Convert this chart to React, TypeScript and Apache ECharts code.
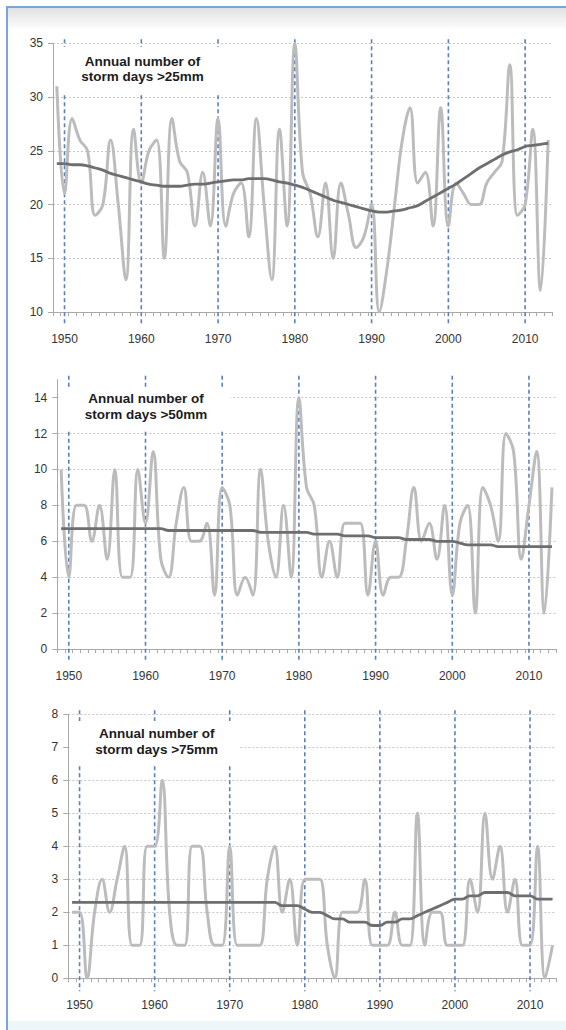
import React, { useEffect, useRef } from 'react';
import * as echarts from 'echarts';

// Years on the category axis (one point per year)
const FIRST_YEAR = 1949;
const LAST_YEAR = 2013;
const years: string[] = [];
for (let y = FIRST_YEAR; y <= LAST_YEAR; y++) years.push(String(y));

// Decade reference lines
const decadeMarks = ['1950', '1960', '1970', '1980', '1990', '2000', '2010'];

// Annual number of storm days >25mm and its smoothed trend
const days25 = [
  31, 21, 28, 26, 25, 19, 20, 26, 20, 13,
  27, 22, 25, 26, 15, 28, 24, 23, 18, 23,
  18, 28, 18, 21, 22, 17, 28, 20, 13, 27,
  18, 35, 23, 21, 17, 22, 15, 22, 19, 16,
  17, 20, 10, 14, 20, 26, 29, 22, 23, 18,
  29, 18, 22, 21, 20, 20, 22, 23, 24, 33,
  19, 20, 27, 12, 26,
];
const trend25 = [
  23.8, 23.8, 23.7, 23.7, 23.6, 23.4, 23.2, 22.9, 22.7, 22.5,
  22.3, 22.1, 21.9, 21.8, 21.7, 21.7, 21.7, 21.8, 21.9, 21.9,
  22.0, 22.1, 22.2, 22.3, 22.3, 22.4, 22.4, 22.4, 22.3, 22.1,
  22.0, 21.8, 21.6, 21.3, 21.0, 20.7, 20.4, 20.2, 20.0, 19.8,
  19.6, 19.4, 19.3, 19.3, 19.4, 19.5, 19.7, 19.9, 20.3, 20.7,
  21.1, 21.5, 21.9, 22.4, 22.9, 23.4, 23.8, 24.2, 24.6, 24.9,
  25.1, 25.4, 25.5, 25.6, 25.7,
];

// Annual number of storm days >50mm and its smoothed trend
const days50 = [
  10, 4, 8, 8, 6, 8, 5, 10, 4, 4,
  10, 7, 11, 5, 4, 7, 9, 6, 6, 7,
  3, 9, 8, 3, 4, 3, 10, 6, 4, 8,
  4, 14, 9, 8, 4, 6, 4, 7, 7, 7,
  3, 6, 3, 4, 4, 6, 9, 6, 7, 5,
  8, 3, 7, 8, 2, 9, 8, 6, 12, 11,
  5, 8, 11, 2, 9,
];
const trend50 = [
  6.7, 6.7, 6.7, 6.7, 6.7, 6.7, 6.7, 6.7, 6.7, 6.7,
  6.7, 6.7, 6.7, 6.7, 6.6, 6.6, 6.6, 6.6, 6.6, 6.6,
  6.6, 6.6, 6.6, 6.6, 6.6, 6.6, 6.5, 6.5, 6.5, 6.5,
  6.5, 6.5, 6.5, 6.4, 6.4, 6.4, 6.4, 6.3, 6.3, 6.3,
  6.3, 6.2, 6.2, 6.2, 6.2, 6.1, 6.1, 6.1, 6.1, 6.0,
  6.0, 6.0, 5.9, 5.8, 5.8, 5.8, 5.8, 5.7, 5.7, 5.7,
  5.7, 5.7, 5.7, 5.7, 5.7,
];

// Annual number of storm days >75mm and its smoothed trend
const days75 = [
  2, 2, 0, 2, 3, 2, 3, 4, 1, 1,
  4, 4, 6, 2, 1, 1, 4, 4, 2, 1,
  1, 4, 1, 1, 1, 1, 3, 4, 2, 3,
  1, 3, 3, 3, 1, 0, 2, 2, 2, 3,
  1, 1, 1, 2, 1, 1, 5, 1, 2, 2,
  1, 1, 1, 3, 2, 5, 3, 4, 2, 3,
  1, 1, 4, 0, 1,
];
const trend75 = [
  2.3, 2.3, 2.3, 2.3, 2.3, 2.3, 2.3, 2.3, 2.3, 2.3,
  2.3, 2.3, 2.3, 2.3, 2.3, 2.3, 2.3, 2.3, 2.3, 2.3,
  2.3, 2.3, 2.3, 2.3, 2.3, 2.3, 2.3, 2.3, 2.2, 2.2,
  2.2, 2.1, 2.0, 2.0, 1.9, 1.8, 1.8, 1.7, 1.7, 1.7,
  1.6, 1.6, 1.7, 1.7, 1.8, 1.8, 1.9, 2.0, 2.1, 2.2,
  2.3, 2.4, 2.4, 2.5, 2.5, 2.6, 2.6, 2.6, 2.6, 2.5,
  2.5, 2.5, 2.4, 2.4, 2.4,
];

const titles = [
  ['Annual number of', 'storm days >25mm'],
  ['Annual number of', 'storm days >50mm'],
  ['Annual number of', 'storm days >75mm'],
];

const FONT = '"Liberation Sans", Arial, Helvetica, sans-serif';
const AXIS_COLOR = '#a9a9a9';
const LABEL_COLOR = '#353535';

const panels = [
  {
    values: days25, trend: trend25, title: titles[0],
    min: 10, max: 35, interval: 5, hideMax: false,
    grid: { left: 53, top: 43.3, width: 499, height: 268.7 },
    box: { x: 60, y: 47, width: 164, height: 48 },
    titleX: 142.5, titleY: [61, 76.7],
  },
  {
    values: days50, trend: trend50, title: titles[1],
    min: 0, max: 15, interval: 2, hideMax: true,
    grid: { left: 57.3, top: 379.7, width: 498.5, height: 269.3 },
    box: { x: 58.5, y: 388, width: 172, height: 42 },
    titleX: 146, titleY: [398, 414.3],
  },
  {
    values: days75, trend: trend75, title: titles[2],
    min: 0, max: 8, interval: 1, hideMax: false,
    grid: { left: 68.3, top: 714.3, width: 488, height: 264 },
    box: { x: 69.5, y: 721, width: 169, height: 45 },
    titleX: 156.7, titleY: [733.3, 749],
  },
];

function buildOption() {
  const grid: any[] = [];
  const xAxis: any[] = [];
  const yAxis: any[] = [];
  const series: any[] = [];
  const graphic: any[] = [];

  // window-like frame around the figure
  graphic.push(
    {
      type: 'rect', silent: true, z: 0,
      shape: { x: 7, y: 8, width: 570, height: 20 },
      style: {
        fill: new echarts.graphic.LinearGradient(0, 0, 0, 1, [
          { offset: 0, color: '#e1e1e1' },
          { offset: 1, color: '#fbfbfb' },
        ]),
      },
    },
    {
      type: 'rect', silent: true, z: 0,
      shape: { x: 7, y: 1021, width: 570, height: 12 },
      style: { fill: '#edf6f9' },
    },
    {
      type: 'line', silent: true, z: 1,
      shape: { x1: 6, y1: 7, x2: 566, y2: 7 },
      style: { stroke: '#7ea3d8', lineWidth: 2 },
    },
    {
      type: 'line', silent: true, z: 1,
      shape: { x1: 7, y1: 7, x2: 7, y2: 1030 },
      style: { stroke: '#7ea3d8', lineWidth: 2 },
    },
  );

  panels.forEach((p, i) => {
    grid.push({ ...p.grid, containLabel: false });

    xAxis.push({
      type: 'category',
      gridIndex: i,
      data: years,
      boundaryGap: true,
      axisLine: { show: true, lineStyle: { color: AXIS_COLOR, width: 1 } },
      axisTick: { show: true, interval: 0, length: 4, lineStyle: { color: AXIS_COLOR } },
      axisLabel: {
        interval: (_idx: number, val: string) => Number(val) % 10 === 0,
        margin: 21,
        fontSize: 12,
        fontFamily: FONT,
        color: LABEL_COLOR,
      },
      splitLine: { show: false },
    });

    yAxis.push({
      type: 'value',
      gridIndex: i,
      min: p.min,
      max: p.max,
      interval: p.interval,
      axisLine: { show: true, lineStyle: { color: AXIS_COLOR, width: 1 } },
      axisTick: { show: true, length: 5, lineStyle: { color: AXIS_COLOR } },
      axisLabel: {
        margin: 10,
        fontSize: 12,
        fontFamily: FONT,
        color: LABEL_COLOR,
        showMaxLabel: !p.hideMax,
      },
      splitLine: {
        show: true,
        showMaxLine: !p.hideMax,
        lineStyle: { color: '#c6c6c6', width: 1, type: [2, 2] },
      },
    });

    // dashed decade lines, running a little past the plot area
    series.push({
      type: 'custom',
      xAxisIndex: i,
      yAxisIndex: i,
      z: 1,
      silent: true,
      data: decadeMarks.map((d) => [years.indexOf(d), p.min]),
      renderItem: (params: any, api: any) => {
        const pt = api.coord([api.value(0), api.value(1)]);
        const cs = params.coordSys;
        return {
          type: 'line',
          shape: { x1: pt[0], y1: cs.y - 4, x2: pt[0], y2: cs.y + cs.height + 13 },
          style: { stroke: '#5b80bb', lineWidth: 1.6, lineDash: [4, 3] },
        };
      },
    });

    series.push({
      type: 'line',
      name: 'annual',
      xAxisIndex: i,
      yAxisIndex: i,
      data: p.values,
      smooth: 0.4,
      symbol: 'none',
      z: 2,
      lineStyle: { color: '#bcbcbc', width: 3 },
    });

    series.push({
      type: 'line',
      name: 'trend',
      xAxisIndex: i,
      yAxisIndex: i,
      data: p.trend,
      smooth: 0.4,
      symbol: 'none',
      z: 3,
      lineStyle: { color: '#6e6e6e', width: 2.8 },
    });

    // title box (white background hides grid lines behind it)
    graphic.push({
      type: 'rect', silent: true, z: 50,
      shape: { ...p.box },
      style: { fill: '#ffffff' },
    });
    p.title.forEach((line, j) => {
      graphic.push({
        type: 'text', silent: true, z: 51,
        x: p.titleX,
        y: p.titleY[j],
        style: {
          text: line,
          font: `bold 13.5px ${FONT}`,
          fill: '#1c1c1c',
          align: 'center',
          verticalAlign: 'middle',
          textAlign: 'center',
          textVerticalAlign: 'middle',
        },
      });
    });
  });

  return {
    animation: false,
    backgroundColor: '#ffffff',
    grid,
    xAxis,
    yAxis,
    series,
    graphic,
  };
}

export default function App() {
  const ref = useRef<HTMLDivElement | null>(null);

  useEffect(() => {
    if (!ref.current) return;
    const chart = echarts.init(ref.current, undefined, { renderer: 'svg' });
    chart.setOption(buildOption() as any);
    return () => chart.dispose();
  }, []);

  return (
    <div
      ref={ref}
      style={{ position: 'fixed', left: 0, top: 0, width: 566, height: 1030, background: '#fff' }}
    />
  );
}
